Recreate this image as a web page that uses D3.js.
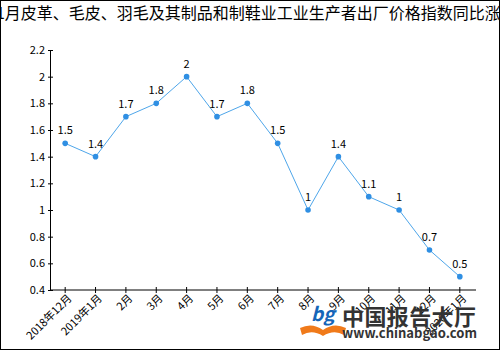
<!DOCTYPE html>
<html><head><meta charset="utf-8">
<script src="https://cdn.jsdelivr.net/npm/d3@7"></script>
<style>body{margin:0;background:#fff}svg{display:block}text{font-family:"Noto Sans CJK SC","Noto Sans",sans-serif}</style>
</head><body><svg id="c" width="500" height="350"></svg>
<script>
const categories = ["2018年12月","2019年1月","2月","3月","4月","5月","6月","7月","8月","9月","10月","11月","12月","2020年1月"];
const values = [1.5,1.4,1.7,1.8,2,1.7,1.8,1.5,1,1.4,1.1,1,0.7,0.5];
const yTicks = [0.4,0.6,0.8,1,1.2,1.4,1.6,1.8,2,2.2];
const titlePrefix = "2018年12月-2020年";
const titleText = "1月皮革、毛皮、羽毛及其制品和制鞋业工业生产者出厂价格指数同比涨跌情况";

const svg = d3.select("#c");
svg.append("rect").attr("x",0.5).attr("y",0.5).attr("width",499).attr("height",349).attr("fill","#fff").attr("stroke","#000");

// title (overflows both sides like the reference)
const t = svg.append("text").attr("y",19).attr("font-size",16).attr("fill","#000");
const tmp = svg.append("text").attr("font-size",16).text(titlePrefix);
const pw = tmp.node().getComputedTextLength(); tmp.remove();
t.attr("x", -4 - pw).text(titlePrefix + titleText);

const x = d3.scaleBand().domain(categories).range([50,475]);
const y = d3.scaleLinear().domain([0.4,2.2]).range([290,50]);

const gx = svg.append("g").attr("transform","translate(0,290)")
  .call(d3.axisBottom(x).tickValues(categories).tickSizeInner(3).tickSizeOuter(0));
gx.selectAll(".tick line").attr("y1",-3).attr("y2",3);
gx.selectAll("text").attr("font-size",11).attr("fill","#000")
  .attr("text-anchor","end").attr("transform","rotate(-45)").attr("dx","-0.1em").attr("dy","0.5em").attr("x",0).attr("y",6);
gx.select(".domain").attr("stroke","#000");

const gy = svg.append("g").attr("transform","translate(50,0)")
  .call(d3.axisLeft(y).tickValues(yTicks).tickFormat(d3.format("")).tickSizeInner(2).tickSizeOuter(0));
gy.selectAll(".tick line").attr("x1",-2).attr("x2",3);
gy.selectAll("text").attr("font-size",11).attr("fill","#000").attr("x",-5);
gy.select(".domain").attr("stroke","#000");
gx.select(".domain").attr("d","M50,0H476");

const cx = (d,i)=> x(categories[i]) + x.bandwidth()/2;
svg.append("path").datum(values).attr("fill","none").attr("stroke","#4ea6ea").attr("stroke-width",1)
  .attr("d", d3.line().x(cx).y(d=>y(d)));
svg.selectAll(".pt").data(values).join("circle").attr("class","pt")
  .attr("cx",cx).attr("cy",d=>y(d)).attr("r",2.8).attr("fill","#2f8fe3");
svg.selectAll(".lbl").data(values).join("text").attr("class","lbl")
  .attr("x",cx).attr("y",d=>y(d)-9).attr("text-anchor","middle").attr("font-size",11).attr("fill","#000")
  .text(d=>d);

// watermark logo
const w = svg.append("g");
w.append("path").attr("d","M300,328 Q312,322 323,330 Q334,322 346,328 L344,335 Q334,329 323,336 Q312,329 302,335 Z").attr("fill","#f07a1a");
w.append("text").attr("x",311).attr("y",321).attr("font-size",19).attr("font-style","italic").attr("font-weight","bold")
  .attr("fill","#1565b8").text("bg");
w.append("text").attr("x",342).attr("y",325).attr("font-size",22).attr("font-weight","bold").attr("fill","#333")
  .attr("textLength",134).text("中国报告大厅");
w.append("text").attr("x",342).attr("y",338).attr("font-size",13).attr("font-weight","bold").attr("fill","#333")
  .attr("font-family","Liberation Sans, Arial, sans-serif").attr("textLength",135).text("www.chinabgao.com");
</script></body></html>
